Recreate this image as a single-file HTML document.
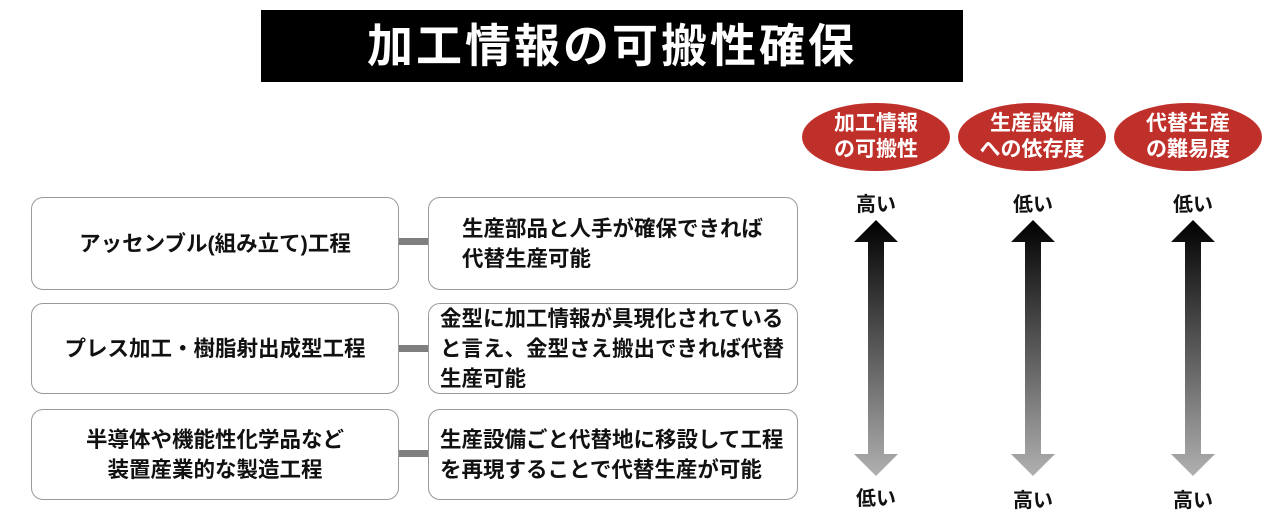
<!DOCTYPE html>
<html><head><meta charset="utf-8"><style>
body{margin:0;width:1280px;height:521px;background:#fff;position:relative;overflow:hidden;font-family:"Liberation Sans","Noto Sans CJK JP",sans-serif;color:#111}
.t{position:absolute;left:261px;top:10px;width:702px;height:72px;background:#000;color:#fff;font-size:46px;font-weight:bold;text-align:center;line-height:72px;letter-spacing:3px}
.b{position:absolute;border:1.5px solid #999;border-radius:12px;box-sizing:border-box;display:flex;align-items:center;font-size:21.5px;line-height:30px;font-weight:bold}
.l{left:31px;width:368px;justify-content:center;text-align:center}
.r{left:428px;width:370px;padding-left:11px;white-space:nowrap}
.c{position:absolute;left:399px;width:29px;height:7px;background:#7f7f7f}
.e{position:absolute;width:148px;height:68px;border-radius:50%;background:#c0302b;color:#fff;font-size:21px;font-weight:bold;text-align:center;line-height:26px;display:flex;align-items:center;justify-content:center}
.lab{position:absolute;font-size:20px;width:60px;text-align:center;font-weight:bold}
</style></head><body>
<div class="t">加工情報の可搬性確保</div>
<div class="b l" style="top:197px;height:93px">アッセンブル(組み立て)工程</div>
<div class="b l" style="top:303px;height:91px">プレス加工・樹脂射出成型工程</div>
<div class="b l" style="top:409px;height:91px">半導体や機能性化学品など<br>装置産業的な製造工程</div>
<div class="b r" style="top:197px;height:93px;padding-left:33px">生産部品と人手が確保できれば<br>代替生産可能</div>
<div class="b r" style="top:303px;height:91px">金型に加工情報が具現化されている<br>と言え、金型さえ搬出できれば代替<br>生産可能</div>
<div class="b r" style="top:409px;height:91px">生産設備ごと代替地に移設して工程<br>を再現することで代替生産が可能</div>
<div class="c" style="top:238px"></div>
<div class="c" style="top:345px"></div>
<div class="c" style="top:450px"></div>
<div class="e" style="left:802px;top:103px">加工情報<br>の可搬性</div>
<div class="e" style="left:958px;top:103px">生産設備<br>への依存度</div>
<div class="e" style="left:1114px;top:103px">代替生産<br>の難易度</div>
<div class="lab" style="left:846px;top:188px">高い</div>
<div class="lab" style="left:1003px;top:188px">低い</div>
<div class="lab" style="left:1163px;top:188px">低い</div>
<div class="lab" style="left:846px;top:482px">低い</div>
<div class="lab" style="left:1003px;top:484px">高い</div>
<div class="lab" style="left:1163px;top:484px">高い</div>
<svg width="1280" height="521" style="position:absolute;left:0;top:0">
<defs><linearGradient id="g" x1="0" y1="0" x2="0" y2="1"><stop offset="0" stop-color="#000"/><stop offset="1" stop-color="#b0b0b0"/></linearGradient></defs>
<g fill="url(#g)">
<polygon points="876,220 898,242 884,242 884,454 898,454 876,476 854,454 868,454 868,242 854,242"/>
<polygon points="1033,220 1055,242 1041,242 1041,454 1055,454 1033,476 1011,454 1025,454 1025,242 1011,242"/>
<polygon points="1193,220 1215,242 1201,242 1201,454 1215,454 1193,476 1171,454 1185,454 1185,242 1171,242"/>
</g></svg>
</body></html>
